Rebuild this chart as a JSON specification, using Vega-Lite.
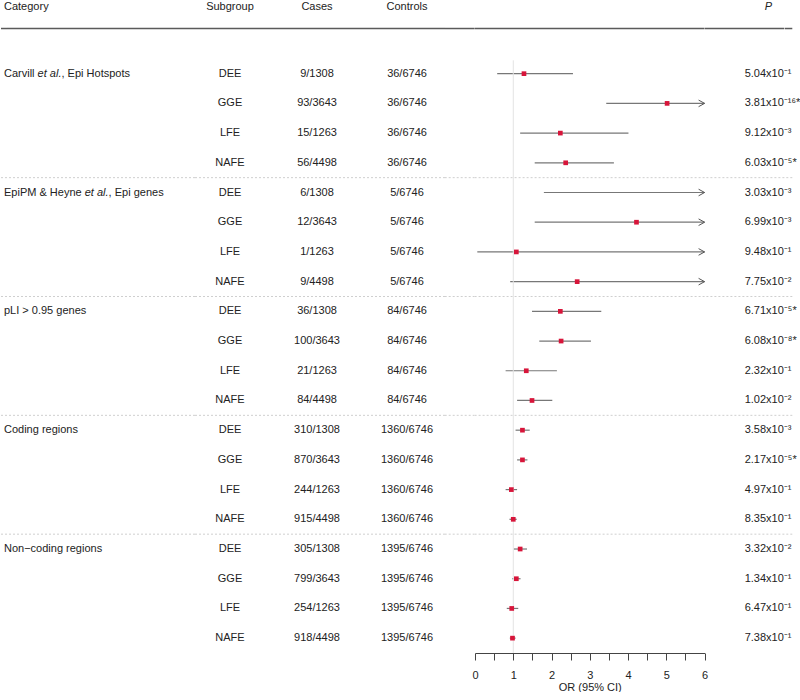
{
  "$schema": "https://vega.github.io/schema/vega-lite/v6.json",
  "padding": {"left": 0, "top": 0, "right": 10, "bottom": 0},
  "bounds": "flush",
  "spacing": 0,
  "config": {
    "view": {"stroke": null},
    "font": "Liberation Sans",
    "text": {"font": "Liberation Sans", "fontSize": 11, "color": "#222"},
    "axisX": {"values": [0, 0.5, 1, 1.5, 2, 2.5, 3, 3.5, 4, 4.5, 5, 5.5, 6], "tickCount": 13, "labelExpr": "datum.value % 1 === 0 ? format(datum.value, 'd') : ''", "grid": false, "tickSize": 7, "labelPadding": 9, "titlePadding": 1, "domainColor": "#444", "tickColor": "#444", "labelFontSize": 11, "titleFontSize": 11, "titleFontWeight": "normal", "labelFont": "Liberation Sans", "titleFont": "Liberation Sans", "labelColor": "#222", "titleColor": "#222", "labelFlush": false, "labelOverlap": false}
  },
  "datasets": {
    "one": [{}],
    "seps": [{"boundary": 4.5}, {"boundary": 8.5}, {"boundary": 12.5}, {"boundary": 16.5}],
    "rows": [
      {"row": 1, "category": "Carvill et al., Epi Hotspots", "subgroup": "DEE", "cases": "9/1308", "controls": "36/6746", "or": 1.28, "lo": 0.58, "hi": 2.56, "p": "5.04x10⁻¹"},
      {"row": 2, "category": "", "subgroup": "GGE", "cases": "93/3643", "controls": "36/6746", "or": 5.02, "lo": 3.43, "hi": 7.3, "p": "3.81x10⁻¹⁶*"},
      {"row": 3, "category": "", "subgroup": "LFE", "cases": "15/1263", "controls": "36/6746", "or": 2.23, "lo": 1.18, "hi": 4.01, "p": "9.12x10⁻³"},
      {"row": 4, "category": "", "subgroup": "NAFE", "cases": "56/4498", "controls": "36/6746", "or": 2.37, "lo": 1.56, "hi": 3.63, "p": "6.03x10⁻⁵*"},
      {"row": 5, "category": "EpiPM & Heyne et al., Epi genes", "subgroup": "DEE", "cases": "6/1308", "controls": "5/6746", "or": 6.21, "lo": 1.80, "hi": 22.0, "p": "3.03x10⁻³"},
      {"row": 6, "category": "", "subgroup": "GGE", "cases": "12/3643", "controls": "5/6746", "or": 4.22, "lo": 1.56, "hi": 12.5, "p": "6.99x10⁻³"},
      {"row": 7, "category": "", "subgroup": "LFE", "cases": "1/1263", "controls": "5/6746", "or": 1.08, "lo": 0.06, "hi": 9.2, "p": "9.48x10⁻¹"},
      {"row": 8, "category": "", "subgroup": "NAFE", "cases": "9/4498", "controls": "5/6746", "or": 2.67, "lo": 0.92, "hi": 9.4, "p": "7.75x10⁻²"},
      {"row": 9, "category": "pLI > 0.95 genes", "subgroup": "DEE", "cases": "36/1308", "controls": "84/6746", "or": 2.23, "lo": 1.49, "hi": 3.30, "p": "6.71x10⁻⁵*"},
      {"row": 10, "category": "", "subgroup": "GGE", "cases": "100/3643", "controls": "84/6746", "or": 2.25, "lo": 1.68, "hi": 3.03, "p": "6.08x10⁻⁸*"},
      {"row": 11, "category": "", "subgroup": "LFE", "cases": "21/1263", "controls": "84/6746", "or": 1.34, "lo": 0.80, "hi": 2.14, "p": "2.32x10⁻¹"},
      {"row": 12, "category": "", "subgroup": "NAFE", "cases": "84/4498", "controls": "84/6746", "or": 1.49, "lo": 1.10, "hi": 2.02, "p": "1.02x10⁻²"},
      {"row": 13, "category": "Coding regions", "subgroup": "DEE", "cases": "310/1308", "controls": "1360/6746", "or": 1.24, "lo": 1.06, "hi": 1.43, "p": "3.58x10⁻³"},
      {"row": 14, "category": "", "subgroup": "GGE", "cases": "870/3643", "controls": "1360/6746", "or": 1.24, "lo": 1.10, "hi": 1.37, "p": "2.17x10⁻⁵*"},
      {"row": 15, "category": "", "subgroup": "LFE", "cases": "244/1263", "controls": "1360/6746", "or": 0.95, "lo": 0.80, "hi": 1.10, "p": "4.97x10⁻¹"},
      {"row": 16, "category": "", "subgroup": "NAFE", "cases": "915/4498", "controls": "1360/6746", "or": 1.00, "lo": 0.90, "hi": 1.09, "p": "8.35x10⁻¹"},
      {"row": 17, "category": "Non−coding regions", "subgroup": "DEE", "cases": "305/1308", "controls": "1395/6746", "or": 1.18, "lo": 1.01, "hi": 1.36, "p": "3.32x10⁻²"},
      {"row": 18, "category": "", "subgroup": "GGE", "cases": "799/3643", "controls": "1395/6746", "or": 1.08, "lo": 0.97, "hi": 1.19, "p": "1.34x10⁻¹"},
      {"row": 19, "category": "", "subgroup": "LFE", "cases": "254/1263", "controls": "1395/6746", "or": 0.96, "lo": 0.83, "hi": 1.13, "p": "6.47x10⁻¹"},
      {"row": 20, "category": "", "subgroup": "NAFE", "cases": "918/4498", "controls": "1395/6746", "or": 0.98, "lo": 0.91, "hi": 1.06, "p": "7.38x10⁻¹"}
    ]
  },
  "hconcat": [
    {
      "width": 6, "height": 653,
      "layer": [
        {"data": {"name": "one"}, "mark": {"type": "rule", "stroke": "#5a5a5a", "strokeWidth": 1.5}, "encoding": {"y": {"datum": -0.52, "type": "quantitative", "scale": {"domain": [-1.48, 20.5], "reverse": true, "nice": false, "zero": false}, "axis": null}}},
        {"data": {"name": "seps"}, "mark": {"type": "rule", "stroke": "#cfcfcf", "strokeDash": [2, 2], "strokeWidth": 1}, "encoding": {"y": {"field": "boundary", "type": "quantitative", "scale": {"domain": [-1.48, 20.5], "reverse": true, "nice": false, "zero": false}, "axis": null}}},
        {"data": {"name": "one"}, "mark": {"type": "text", "text": "Category", "align": "left", "baseline": "middle"}, "encoding": {"y": {"datum": -1.23, "type": "quantitative", "scale": {"domain": [-1.48, 20.5], "reverse": true, "nice": false, "zero": false}, "axis": null}}},
        {"data": {"name": "rows"}, "transform": [{"filter": "indexof(datum.category, 'et al.') < 0"}],
         "mark": {"type": "text", "align": "left", "baseline": "middle"}, "encoding": {"y": {"field": "row", "type": "quantitative", "scale": {"domain": [-1.48, 20.5], "reverse": true, "nice": false, "zero": false}, "axis": null}, "text": {"field": "category"}}},
        {"data": {"name": "rows"}, "transform": [{"filter": "indexof(datum.category, 'Carvill') >= 0"}, {"calculate": "split(datum.category, 'et al.')[0]", "as": "pre"}],
         "mark": {"type": "text", "align": "left", "baseline": "middle"}, "encoding": {"y": {"field": "row", "type": "quantitative", "scale": {"domain": [-1.48, 20.5], "reverse": true, "nice": false, "zero": false}, "axis": null}, "text": {"field": "pre"}}},
        {"data": {"name": "rows"}, "transform": [{"filter": "indexof(datum.category, 'Carvill') >= 0"}],
         "mark": {"type": "text", "align": "left", "baseline": "middle", "fontStyle": "italic", "text": "et al.", "dx": 33.6}, "encoding": {"y": {"field": "row", "type": "quantitative", "scale": {"domain": [-1.48, 20.5], "reverse": true, "nice": false, "zero": false}, "axis": null}}},
        {"data": {"name": "rows"}, "transform": [{"filter": "indexof(datum.category, 'Carvill') >= 0"}, {"calculate": "split(datum.category, 'et al.')[1]", "as": "post"}],
         "mark": {"type": "text", "align": "left", "baseline": "middle", "dx": 57.5}, "encoding": {"y": {"field": "row", "type": "quantitative", "scale": {"domain": [-1.48, 20.5], "reverse": true, "nice": false, "zero": false}, "axis": null}, "text": {"field": "post"}}},
        {"data": {"name": "rows"}, "transform": [{"filter": "indexof(datum.category, 'EpiPM') >= 0"}, {"calculate": "split(datum.category, 'et al.')[0]", "as": "pre"}],
         "mark": {"type": "text", "align": "left", "baseline": "middle"}, "encoding": {"y": {"field": "row", "type": "quantitative", "scale": {"domain": [-1.48, 20.5], "reverse": true, "nice": false, "zero": false}, "axis": null}, "text": {"field": "pre"}}},
        {"data": {"name": "rows"}, "transform": [{"filter": "indexof(datum.category, 'EpiPM') >= 0"}],
         "mark": {"type": "text", "align": "left", "baseline": "middle", "fontStyle": "italic", "text": "et al.", "dx": 80.7}, "encoding": {"y": {"field": "row", "type": "quantitative", "scale": {"domain": [-1.48, 20.5], "reverse": true, "nice": false, "zero": false}, "axis": null}}},
        {"data": {"name": "rows"}, "transform": [{"filter": "indexof(datum.category, 'EpiPM') >= 0"}, {"calculate": "split(datum.category, 'et al.')[1]", "as": "post"}],
         "mark": {"type": "text", "align": "left", "baseline": "middle", "dx": 104.6}, "encoding": {"y": {"field": "row", "type": "quantitative", "scale": {"domain": [-1.48, 20.5], "reverse": true, "nice": false, "zero": false}, "axis": null}, "text": {"field": "post"}}}
      ]
    },
    {
      "width": 188, "height": 653,
      "layer": [
        {"data": {"name": "one"}, "mark": {"type": "rule", "stroke": "#5a5a5a", "strokeWidth": 1.5}, "encoding": {"y": {"datum": -0.52, "type": "quantitative", "scale": {"domain": [-1.48, 20.5], "reverse": true, "nice": false, "zero": false}, "axis": null}}},
        {"data": {"name": "seps"}, "mark": {"type": "rule", "stroke": "#cfcfcf", "strokeDash": [2, 2], "strokeWidth": 1}, "encoding": {"y": {"field": "boundary", "type": "quantitative", "scale": {"domain": [-1.48, 20.5], "reverse": true, "nice": false, "zero": false}, "axis": null}}}
      ]
    },
    {
      "width": 70, "height": 653,
      "layer": [
        {"data": {"name": "one"}, "mark": {"type": "rule", "stroke": "#5a5a5a", "strokeWidth": 1.5}, "encoding": {"y": {"datum": -0.52, "type": "quantitative", "scale": {"domain": [-1.48, 20.5], "reverse": true, "nice": false, "zero": false}, "axis": null}}},
        {"data": {"name": "seps"}, "mark": {"type": "rule", "stroke": "#cfcfcf", "strokeDash": [2, 2], "strokeWidth": 1}, "encoding": {"y": {"field": "boundary", "type": "quantitative", "scale": {"domain": [-1.48, 20.5], "reverse": true, "nice": false, "zero": false}, "axis": null}}},
        {"data": {"name": "one"}, "mark": {"type": "text", "text": "Subgroup", "align": "center", "baseline": "middle"}, "encoding": {"y": {"datum": -1.23, "type": "quantitative", "scale": {"domain": [-1.48, 20.5], "reverse": true, "nice": false, "zero": false}, "axis": null}}},
        {"data": {"name": "rows"}, "mark": {"type": "text", "align": "center", "baseline": "middle"}, "encoding": {"y": {"field": "row", "type": "quantitative", "scale": {"domain": [-1.48, 20.5], "reverse": true, "nice": false, "zero": false}, "axis": null}, "text": {"field": "subgroup"}}}
      ]
    },
    {
      "width": 104, "height": 653,
      "layer": [
        {"data": {"name": "one"}, "mark": {"type": "rule", "stroke": "#5a5a5a", "strokeWidth": 1.5}, "encoding": {"y": {"datum": -0.52, "type": "quantitative", "scale": {"domain": [-1.48, 20.5], "reverse": true, "nice": false, "zero": false}, "axis": null}}},
        {"data": {"name": "seps"}, "mark": {"type": "rule", "stroke": "#cfcfcf", "strokeDash": [2, 2], "strokeWidth": 1}, "encoding": {"y": {"field": "boundary", "type": "quantitative", "scale": {"domain": [-1.48, 20.5], "reverse": true, "nice": false, "zero": false}, "axis": null}}},
        {"data": {"name": "one"}, "mark": {"type": "text", "text": "Cases", "align": "center", "baseline": "middle"}, "encoding": {"y": {"datum": -1.23, "type": "quantitative", "scale": {"domain": [-1.48, 20.5], "reverse": true, "nice": false, "zero": false}, "axis": null}}},
        {"data": {"name": "rows"}, "mark": {"type": "text", "align": "center", "baseline": "middle"}, "encoding": {"y": {"field": "row", "type": "quantitative", "scale": {"domain": [-1.48, 20.5], "reverse": true, "nice": false, "zero": false}, "axis": null}, "text": {"field": "cases"}}}
      ]
    },
    {
      "width": 76, "height": 653,
      "layer": [
        {"data": {"name": "one"}, "mark": {"type": "rule", "stroke": "#5a5a5a", "strokeWidth": 1.5}, "encoding": {"y": {"datum": -0.52, "type": "quantitative", "scale": {"domain": [-1.48, 20.5], "reverse": true, "nice": false, "zero": false}, "axis": null}}},
        {"data": {"name": "seps"}, "mark": {"type": "rule", "stroke": "#cfcfcf", "strokeDash": [2, 2], "strokeWidth": 1}, "encoding": {"y": {"field": "boundary", "type": "quantitative", "scale": {"domain": [-1.48, 20.5], "reverse": true, "nice": false, "zero": false}, "axis": null}}},
        {"data": {"name": "one"}, "mark": {"type": "text", "text": "Controls", "align": "center", "baseline": "middle"}, "encoding": {"y": {"datum": -1.23, "type": "quantitative", "scale": {"domain": [-1.48, 20.5], "reverse": true, "nice": false, "zero": false}, "axis": null}}},
        {"data": {"name": "rows"}, "mark": {"type": "text", "align": "center", "baseline": "middle"}, "encoding": {"y": {"field": "row", "type": "quantitative", "scale": {"domain": [-1.48, 20.5], "reverse": true, "nice": false, "zero": false}, "axis": null}, "text": {"field": "controls"}}}
      ]
    },
    {
      "width": 29.7, "height": 653,
      "layer": [
        {"data": {"name": "one"}, "mark": {"type": "rule", "stroke": "#5a5a5a", "strokeWidth": 1.5}, "encoding": {"y": {"datum": -0.52, "type": "quantitative", "scale": {"domain": [-1.48, 20.5], "reverse": true, "nice": false, "zero": false}, "axis": null}}},
        {"data": {"name": "seps"}, "mark": {"type": "rule", "stroke": "#cfcfcf", "strokeDash": [2, 2], "strokeWidth": 1}, "encoding": {"y": {"field": "boundary", "type": "quantitative", "scale": {"domain": [-1.48, 20.5], "reverse": true, "nice": false, "zero": false}, "axis": null}}}
      ]
    },
    {
      "width": 229.6, "height": 653,
      "layer": [
        {"data": {"name": "one"}, "mark": {"type": "rule", "stroke": "#5a5a5a", "strokeWidth": 1.5}, "encoding": {"y": {"datum": -0.52, "type": "quantitative", "scale": {"domain": [-1.48, 20.5], "reverse": true, "nice": false, "zero": false}, "axis": null}}},
        {"data": {"name": "seps"}, "mark": {"type": "rule", "stroke": "#cfcfcf", "strokeDash": [2, 2], "strokeWidth": 1}, "encoding": {"y": {"field": "boundary", "type": "quantitative", "scale": {"domain": [-1.48, 20.5], "reverse": true, "nice": false, "zero": false}, "axis": null}}},
        {"data": {"name": "rows"}, "mark": {"type": "rule", "stroke": "#777", "strokeWidth": 1.2},
         "encoding": {
           "x": {"field": "lo", "type": "quantitative", "scale": {"domain": [0, 6], "clamp": true, "nice": false, "zero": false}, "title": "OR (95% CI)"},
           "x2": {"field": "hi"},
           "y": {"field": "row", "type": "quantitative", "scale": {"domain": [-1.48, 20.5], "reverse": true, "nice": false, "zero": false}, "axis": null}
         }},
        {"data": {"name": "one"}, "mark": {"type": "rule", "stroke": "#e3e3e3", "strokeWidth": 1},
         "encoding": {
           "x": {"datum": 1, "type": "quantitative", "title": "OR (95% CI)"},
           "y": {"datum": 0.55, "type": "quantitative", "scale": {"domain": [-1.48, 20.5], "reverse": true, "nice": false, "zero": false}, "axis": null},
           "y2": {"datum": 20.5}
         }},
        {"data": {"name": "rows"}, "transform": [{"filter": "datum.hi > 6"}],
         "mark": {"type": "point", "shape": "M-1,-0.55L0,0L-1,0.55", "filled": false, "stroke": "#555", "strokeWidth": 1, "size": 144, "opacity": 1},
         "encoding": {
           "x": {"field": "hi", "type": "quantitative", "title": "OR (95% CI)"},
           "y": {"field": "row", "type": "quantitative", "scale": {"domain": [-1.48, 20.5], "reverse": true, "nice": false, "zero": false}, "axis": null}
         }},
        {"data": {"name": "rows"}, "transform": [{"filter": "datum.or <= 6"}],
         "mark": {"type": "square", "color": "#d7153a", "size": 22, "opacity": 1},
         "encoding": {
           "x": {"field": "or", "type": "quantitative", "title": "OR (95% CI)"},
           "y": {"field": "row", "type": "quantitative", "scale": {"domain": [-1.48, 20.5], "reverse": true, "nice": false, "zero": false}, "axis": null}
         }}
      ]
    },
    {
      "width": 79.4, "height": 653,
      "layer": [
        {"data": {"name": "one"}, "mark": {"type": "rule", "stroke": "#5a5a5a", "strokeWidth": 1.5}, "encoding": {"y": {"datum": -0.52, "type": "quantitative", "scale": {"domain": [-1.48, 20.5], "reverse": true, "nice": false, "zero": false}, "axis": null}}},
        {"data": {"name": "seps"}, "mark": {"type": "rule", "stroke": "#cfcfcf", "strokeDash": [2, 2], "strokeWidth": 1}, "encoding": {"y": {"field": "boundary", "type": "quantitative", "scale": {"domain": [-1.48, 20.5], "reverse": true, "nice": false, "zero": false}, "axis": null}}},
        {"data": {"name": "one"}, "mark": {"type": "text", "text": "P", "align": "left", "baseline": "middle", "fontStyle": "italic", "dx": 20}, "encoding": {"y": {"datum": -1.23, "type": "quantitative", "scale": {"domain": [-1.48, 20.5], "reverse": true, "nice": false, "zero": false}, "axis": null}}},
        {"data": {"name": "rows"}, "mark": {"type": "text", "align": "left", "baseline": "middle"}, "encoding": {"y": {"field": "row", "type": "quantitative", "scale": {"domain": [-1.48, 20.5], "reverse": true, "nice": false, "zero": false}, "axis": null}, "text": {"field": "p"}}}
      ]
    },
    {
      "width": 7.3, "height": 653,
      "layer": [
        {"data": {"name": "one"}, "mark": {"type": "rule", "stroke": "#5a5a5a", "strokeWidth": 1.5}, "encoding": {"y": {"datum": -0.52, "type": "quantitative", "scale": {"domain": [-1.48, 20.5], "reverse": true, "nice": false, "zero": false}, "axis": null}}},
        {"data": {"name": "seps"}, "mark": {"type": "rule", "stroke": "#cfcfcf", "strokeDash": [2, 2], "strokeWidth": 1}, "encoding": {"y": {"field": "boundary", "type": "quantitative", "scale": {"domain": [-1.48, 20.5], "reverse": true, "nice": false, "zero": false}, "axis": null}}}
      ]
    }
  ]
}
